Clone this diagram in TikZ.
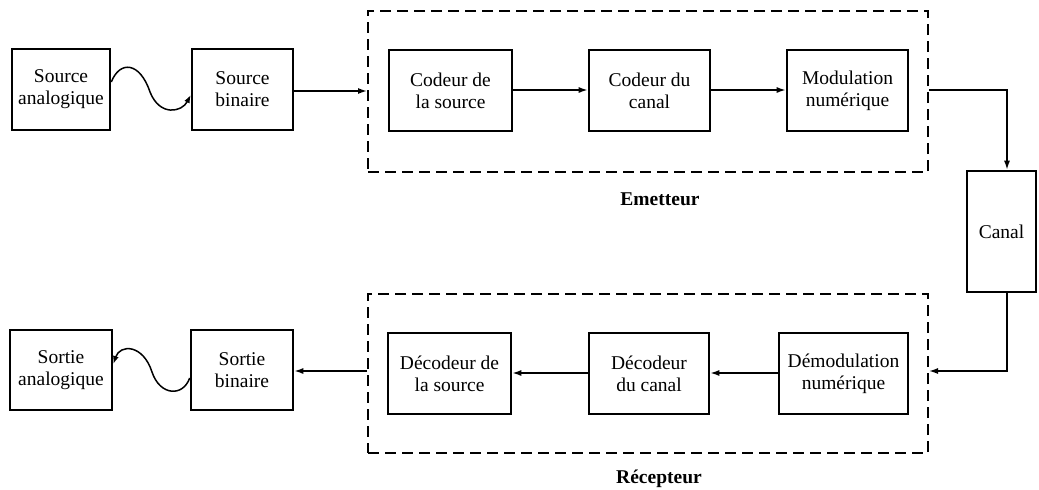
\documentclass[tikz,border=0pt]{standalone}
\usepackage{fontspec}
\setmainfont{Liberation Serif}
\usetikzlibrary{arrows.meta}
\begin{document}
\begin{tikzpicture}[x=1pt,y=-1pt,
  blk/.style={draw,line width=2.6pt,rectangle,align=center,inner sep=0pt,
     font=\fontsize{19.5}{22}\selectfont},
  grp/.style={draw,line width=2pt,dash pattern=on 11pt off 6pt,rectangle,inner sep=0pt},
  conn/.style={line width=1.5pt,-{Latex[length=9pt,width=6pt]}},
  lbl/.style={font=\fontsize{19.5}{22}\selectfont\bfseries}]
\useasboundingbox (0,0) rectangle (1039,490);
% emetteur chain
\node[blk,minimum width=98pt,minimum height=81pt] (sa) at (61,89.5) {Source\\analogique};
\node[blk,minimum width=101pt,minimum height=81pt] (sb) at (242.5,89.5) {Source\\binaire};
\node[grp,minimum width=560pt,minimum height=161pt] (em) at (648,91.5) {};
\node[blk,minimum width=123pt,minimum height=81pt] (cs) at (450.5,90.5) {Codeur de\\la source};
\node[blk,minimum width=121pt,minimum height=81pt] (cc) at (649.5,90.5) {Codeur du\\canal};
\node[blk,minimum width=121pt,minimum height=81pt] (mn) at (847.5,90.5) {Modulation\\numérique};
\node[lbl] (eml) at (660,199) {Emetteur};
% canal
\node[blk,minimum width=69pt,minimum height=121pt] (canal) at (1001.5,231.5) {Canal};
\coordinate (vx) at (1007,0);
% recepteur chain
\node[grp,minimum width=560pt,minimum height=159pt] (rc) at (648,373.5) {};
\node[blk,minimum width=129pt,minimum height=81pt] (dm) at (843.5,373.5) {Démodulation\\numérique};
\node[blk,minimum width=120pt,minimum height=81pt] (dc) at (649,373.5) {Décodeur\\du canal};
\node[blk,minimum width=123pt,minimum height=81pt] (ds) at (449.5,373.5) {Décodeur de\\la source};
\node[blk,minimum width=102pt,minimum height=80pt] (sob) at (242,370) {Sortie\\binaire};
\node[blk,minimum width=102pt,minimum height=80pt] (soa) at (61,370) {Sortie\\analogique};
\node[lbl] (rcl) at (659,479) {Récepteur};
% connectors top
\draw[line width=1.5pt,-{Latex[length=8pt,width=6pt]}]
  (sa.east |- 0,82) .. controls (120,60) and (140,62) .. (150,92)
  .. controls (160,117) and (182,112) .. (sb.west |- 0,95);
\draw[conn] (sb.east |- 0,91) -- (em.west |- 0,91);
\draw[conn] (cs.east |- 0,90) -- (cc.west |- 0,90);
\draw[conn] (cc.east |- 0,90) -- (mn.west |- 0,90);
\draw[conn] (em.east |- 0,90) -| (vx |- canal.north);
% connectors bottom
\draw[conn] (vx |- canal.south) |- (rc.east |- 0,371);
\draw[conn] (dm.west |- 0,373) -- (dc.east |- 0,373);
\draw[conn] (dc.west |- 0,373) -- (ds.east |- 0,373);
\draw[conn] (rc.west |- 0,371) -- (sob.east |- 0,371);
\draw[line width=1.5pt,-{Latex[length=8pt,width=6pt]}]
  (sob.west |- 0,378) .. controls (183,397) and (160,396) .. (152,372)
  .. controls (143,344) and (120,344) .. (soa.east |- 0,364);
\end{tikzpicture}
\end{document}
